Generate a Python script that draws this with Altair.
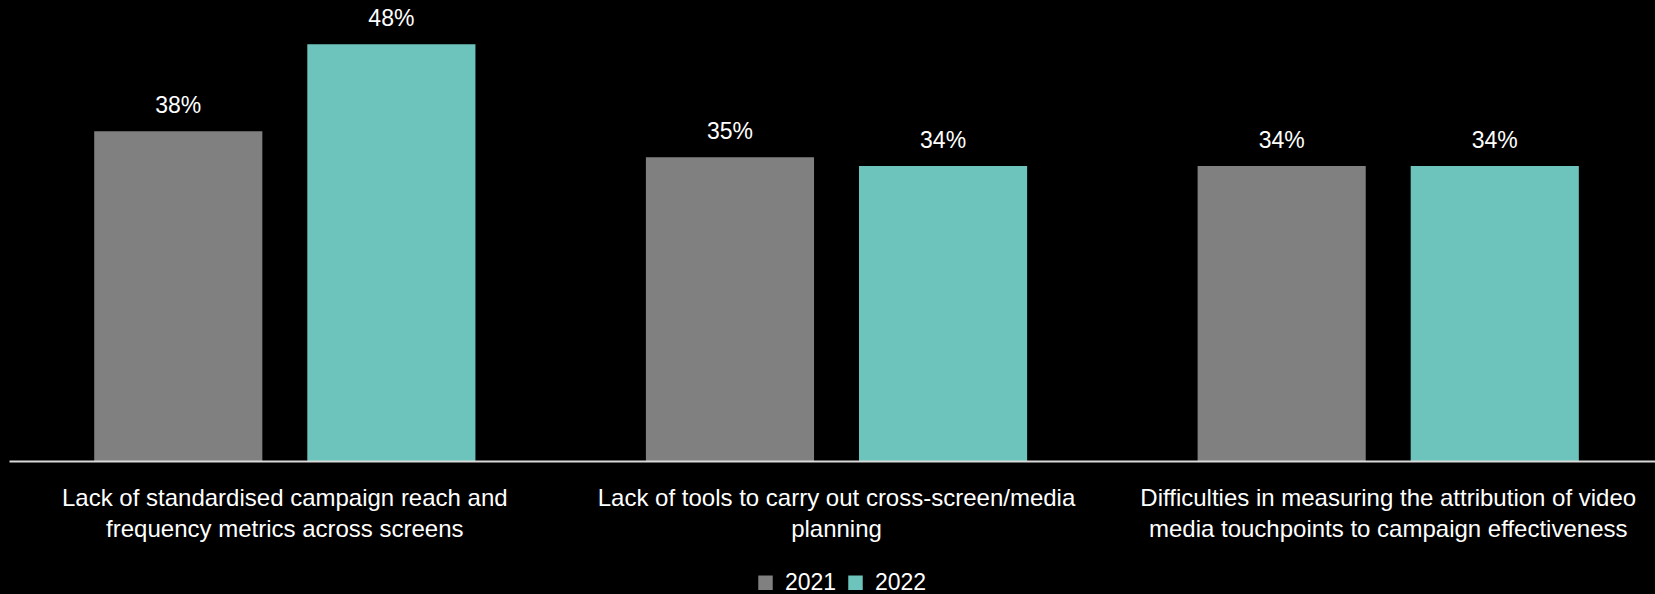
import altair as alt
import pandas as pd

categories = [
    "Lack of standardised campaign reach and|frequency metrics across screens",
    "Lack of tools to carry out cross-screen/media|planning",
    "Difficulties in measuring the attribution of video|media touchpoints to campaign effectiveness",
]
years = ["2021", "2022"]
values_2021 = [0.38, 0.35, 0.34]
values_2022 = [0.48, 0.34, 0.34]
colors = ["#808080", "#6dc4bc"]

rows = []
for c, v1, v2 in zip(categories, values_2021, values_2022):
    rows.append({"category": c, "year": years[0], "value": v1})
    rows.append({"category": c, "year": years[1], "value": v2})
df = pd.DataFrame(rows)

FONT = "Liberation Sans"

base = alt.Chart(df).encode(
    x=alt.X(
        "category:N",
        sort=categories,
        scale=alt.Scale(paddingInner=0.309, paddingOuter=0.14625, align=0.528),
        axis=alt.Axis(
            title=None,
            labelExpr="split(datum.label, '|')",
            labelAngle=0,
            ticks=False,
            domainColor="#d9d9d9",
            domainWidth=2,
            labelColor="#ffffff",
            labelFont=FONT,
            labelFontSize=24,
            labelLineHeight=31,
            labelPadding=25,
            labelLimit=1000,
            zindex=1,
        ),
    ),
    xOffset=alt.XOffset("year:N", sort=years, scale=alt.Scale(paddingInner=0.211, paddingOuter=0)),
    y=alt.Y("value:Q", scale=alt.Scale(domain=[0, 0.5]), axis=None),
)

bars = base.mark_bar().encode(
    color=alt.Color(
        "year:N",
        sort=years,
        scale=alt.Scale(domain=years, range=colors),
        legend=alt.Legend(
            title=None,
            orient="none",
            legendX=745,
            legendY=544,
            direction="horizontal",
            symbolType="square",
            symbolSize=210,
            symbolStrokeWidth=0,
            labelFontSize=23,
            labelFont=FONT,
            labelColor="#ffffff",
            columnPadding=7,
            labelOffset=8,
            padding=0,
        ),
    )
)

text = base.mark_text(
    dy=-18, baseline="alphabetic", font=FONT, fontSize=23, color="#ffffff"
).encode(text=alt.Text("value:Q", format=".0%"))

chart = (
    alt.layer(bars, text)
    .properties(
        width=1646,
        height=434,
        padding={"left": 9, "top": 27, "right": 0, "bottom": 133},
        autosize=alt.AutoSizeParams(type="none"),
        background="#000000",
    )
    .configure_view(stroke=None)
)

chart.save("out.html", embed_options={"renderer": "svg", "actions": False})
